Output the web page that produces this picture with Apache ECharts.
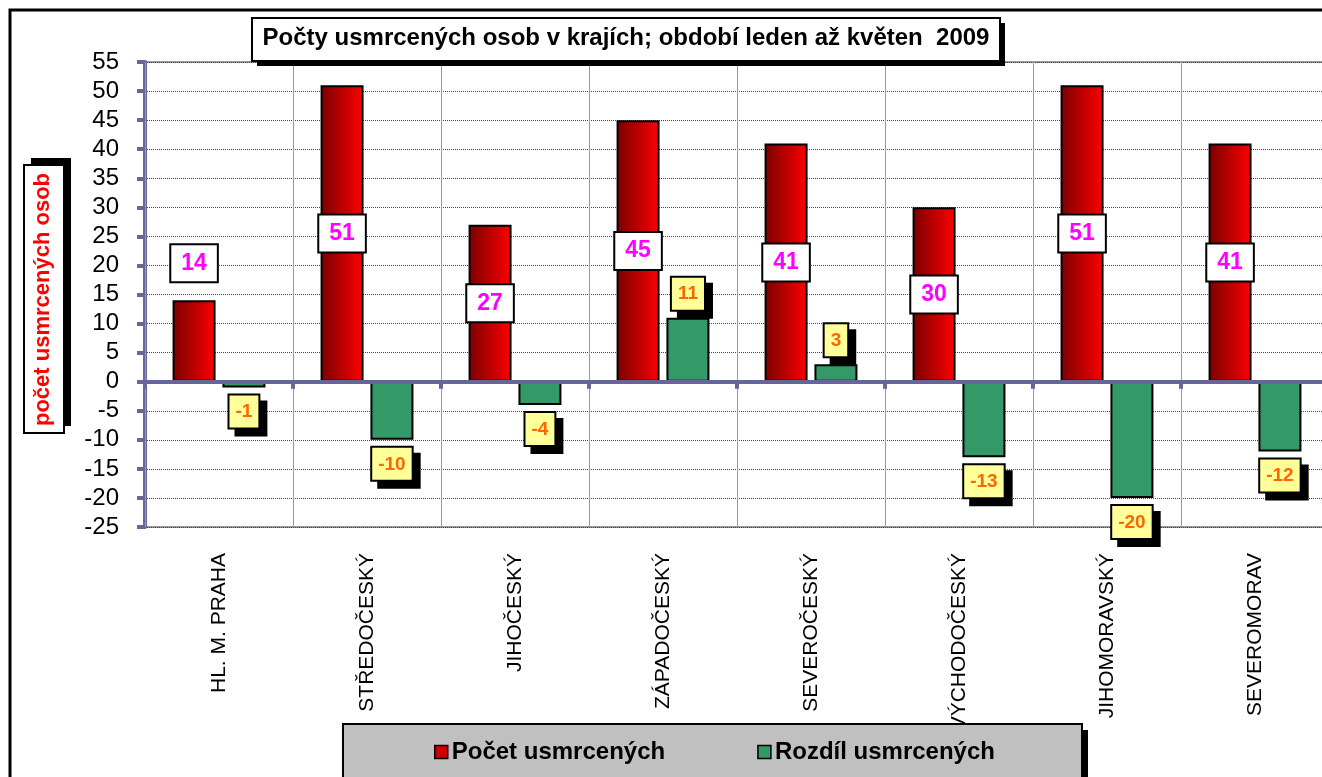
<!DOCTYPE html>
<html>
<head>
<meta charset="utf-8">
<script src="https://cdn.jsdelivr.net/npm/echarts@6/dist/echarts.min.js"></script>
<style>
  html, body { margin: 0; padding: 0; background: #fff; }
  #chart { width: 1322px; height: 777px; }
</style>
</head>
<body>
<div id="chart"></div>
<script>
const kraje = ['HL. M. PRAHA', 'STŘEDOČESKÝ', 'JIHOČESKÝ', 'ZÁPADOČESKÝ', 'SEVEROČESKÝ', 'VÝCHODOČESKÝ', 'JIHOMORAVSKÝ', 'SEVEROMORAV'];
const pocet = [14, 51, 27, 45, 41, 30, 51, 41];
const rozdil = [-1, -10, -4, 11, 3, -13, -20, -12];
const yTicks = { min: -25, max: 55, step: 5 };

const ARIAL = "Arial, 'Liberation Sans', sans-serif";
const AXIS_BLUE = '#666699';

const chart = echarts.init(document.getElementById('chart'));

const pocetData = pocet.map(v => {
  // the small Praha bar has its label above the bar
  if (v < 20) {
    return { value: v, label: { position: 'top', distance: 19 } };
  }
  return v;
});

const rozdilData = rozdil.map(v => ({
  value: v,
  label: { position: v < 0 ? 'bottom' : 'top' }
}));

// yellow value boxes of the second series; the black drop shadow is a copy of it
const greenLabel = {
  show: true,
  distance: 8,
  fontFamily: ARIAL,
  fontSize: 19,
  fontWeight: 'bold',
  color: '#ff6600',
  backgroundColor: '#ffff99',
  borderColor: '#000',
  borderWidth: 2,
  padding: [7, 6, 6, 6]
};

// boxes with a hard black shadow (title, axis name, legend)
function shadowBox(x, y, w, h, dx, dy, fill, z) {
  return [
    { type: 'rect', z: z, silent: true, shape: { x: x + dx, y: y + dy, width: w, height: h }, style: { fill: '#000' } },
    { type: 'rect', z: z, silent: true, shape: { x: x, y: y, width: w, height: h }, style: { fill: fill, stroke: '#000', lineWidth: 2 } }
  ];
}

const option = {
  animation: false,
  backgroundColor: '#fff',
  title: {
    text: 'Počty usmrcených osob v krajích; období leden až květen  2009',
    left: 626,
    top: 26,
    padding: 0,
    textAlign: 'center',
    z: 10,
    textStyle: { fontFamily: ARIAL, fontSize: 24, fontWeight: 'bold', color: '#000' }
  },
  legend: {
    left: 434,
    top: 740,
    padding: 0,
    itemGap: 92,
    itemWidth: 13,
    itemHeight: 13,
    z: 10,
    itemStyle: { borderColor: '#000', borderWidth: 1.5 },
    textStyle: { fontFamily: ARIAL, fontSize: 24, fontWeight: 'bold', color: '#000', padding: [0, 0, 0, -1] },
    data: [
      { name: 'Počet usmrcených', icon: 'rect', itemStyle: { color: '#cc0000' } },
      { name: 'Rozdíl usmrcených', icon: 'rect', itemStyle: { color: '#339966' } }
    ]
  },
  grid: {
    left: 145,
    top: 62,
    width: 1184,
    height: 465,
    outerBoundsMode: 'none',
    show: true,
    borderColor: '#999',
    borderWidth: 2,
    backgroundColor: 'transparent'
  },
  xAxis: [
    {
      type: 'category',
      data: kraje,
      position: 'bottom',
      z: 3,
      axisLine: { onZero: true, lineStyle: { color: AXIS_BLUE, width: 4 } },
      axisTick: { show: true, length: 7, lineStyle: { color: AXIS_BLUE, width: 4 } },
      axisLabel: { show: false },
      splitLine: { show: true, interval: 0, lineStyle: { color: '#ff7f1f', width: 1 } }
    },
    {
      type: 'category',
      data: kraje,
      position: 'bottom',
      axisLine: { onZero: false, show: false },
      axisTick: { show: false },
      splitLine: { show: false },
      axisLabel: {
        interval: 0,
        rotate: 90,
        margin: 26,
        fontFamily: ARIAL,
        fontSize: 21,
        color: '#000'
      }
    }
  ],
  yAxis: {
    type: 'value',
    min: yTicks.min,
    max: yTicks.max,
    interval: yTicks.step,
    name: 'počet usmrcených osob',
    nameLocation: 'middle',
    nameRotate: 90,
    nameGap: 91,
    nameTextStyle: { fontFamily: ARIAL, fontSize: 22, fontWeight: 'bold', color: '#ff0000', padding: [0, 10, 0, 0] },
    axisLine: { show: true, lineStyle: { color: AXIS_BLUE, width: 4 } },
    axisTick: { show: true, length: 8, lineStyle: { color: AXIS_BLUE, width: 4 } },
    axisLabel: { fontFamily: ARIAL, fontSize: 24, color: '#000', margin: 26 },
    splitLine: { show: true, lineStyle: { color: '#444', width: 1, type: 'dotted' } }
  },
  series: [
    {
      name: 'Počet usmrcených',
      type: 'bar',
      xAxisIndex: 0,
      data: pocetData,
      barWidth: 43,
      barGap: '16%',
      itemStyle: {
        color: new echarts.graphic.LinearGradient(0, 0, 1, 0, [
          { offset: 0, color: '#7a0000' },
          { offset: 1, color: '#ff0000' }
        ]),
        borderColor: '#000',
        borderWidth: 2
      },
      label: {
        show: true,
        position: 'inside',
        fontFamily: ARIAL,
        fontSize: 23,
        fontWeight: 'bold',
        color: '#ff00ff',
        textBorderWidth: 0,
        backgroundColor: '#fff',
        borderColor: '#000',
        borderWidth: 2,
        padding: [7, 10, 6, 10]
      }
    },
    {
      name: 'Rozdíl usmrcených',
      type: 'bar',
      xAxisIndex: 0,
      data: rozdilData,
      barWidth: 43,
      itemStyle: { color: '#339966', borderColor: '#000', borderWidth: 2 },
      label: greenLabel
    },
    // invisible copies on the second x axis, only to carry the label shadows
    {
      name: '_pad',
      type: 'bar',
      xAxisIndex: 1,
      silent: true,
      data: pocet,
      barWidth: 43,
      barGap: '16%',
      itemStyle: { color: 'transparent' }
    },
    {
      name: '_shadow',
      type: 'bar',
      xAxisIndex: 1,
      silent: true,
      z: 1,
      data: rozdilData,
      barWidth: 43,
      itemStyle: { color: 'transparent' },
      label: Object.assign({}, greenLabel, {
        color: '#000',
        backgroundColor: '#000',
        offset: [7, 7]
      })
    }
  ],
  graphic: [
    {
      type: 'rect',
      z: -10,
      silent: true,
      shape: { x: 10, y: 10, width: 1400, height: 900 },
      style: { fill: 'none', stroke: '#000', lineWidth: 3 }
    },
    ...shadowBox(252, 18, 748, 43, 5, 5, '#fff', 5),
    ...shadowBox(24, 165, 40, 268, 7, -7, '#fff', -1),
    ...shadowBox(343, 724, 739, 70, 6, 6, '#c0c0c0', 5)
  ]
};

chart.setOption(option);
</script>
</body>
</html>
